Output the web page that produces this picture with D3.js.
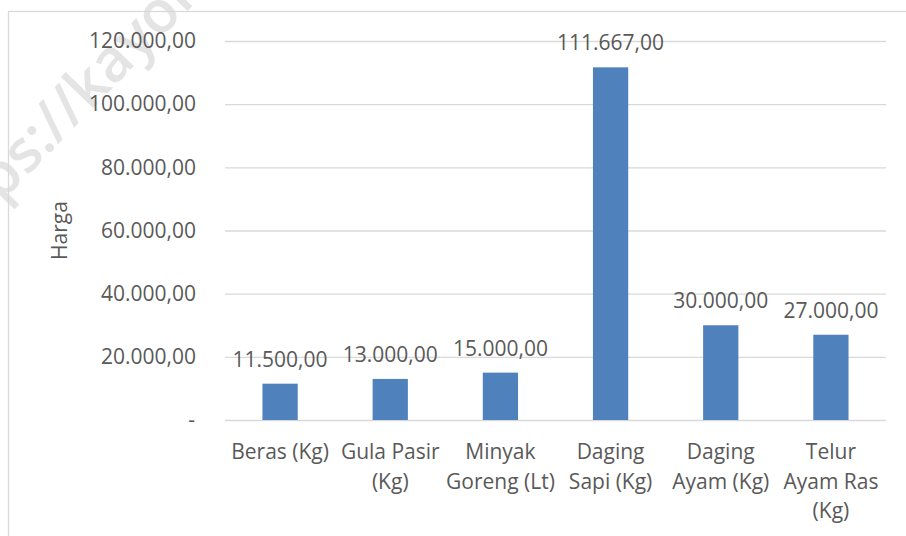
<!DOCTYPE html>
<html>
<head>
<meta charset="utf-8">
<script src="https://cdn.jsdelivr.net/npm/d3@7"></script>
<style>
  body { margin: 0; background: #fff; }
  text { font-family: "Open Sans", sans-serif; fill: #595959; }
</style>
</head>
<body>
<svg id="chart" width="906" height="536"></svg>
<script>
// categories, wrapped the way the labels break under the bars
const categories = ['Beras (Kg)', 'Gula Pasir (Kg)', 'Minyak Goreng (Lt)', 'Daging Sapi (Kg)', 'Daging Ayam (Kg)', 'Telur Ayam Ras (Kg)'];
const categoryLines = [
  ['Beras (Kg)'],
  ['Gula Pasir', '(Kg)'],
  ['Minyak', 'Goreng (Lt)'],
  ['Daging', 'Sapi (Kg)'],
  ['Daging', 'Ayam (Kg)'],
  ['Telur', 'Ayam Ras', '(Kg)'],
];
const harga = [11500, 13000, 15000, 111667, 30000, 27000];
const yTicks = [0, 20000, 40000, 60000, 80000, 100000, 120000];

const svg = d3.select('#chart');
const margin = {top: 41, left: 225, right: 20, bottom: 116};
const width = 906;
const height = 536;

const idLocale = d3.formatLocale({decimal: ',', thousands: '.', grouping: [3], currency: ['', '']});
const fmt = idLocale.format(',.2f');
const tickFmt = d => d === 0 ? '-' : fmt(d);

svg.append('rect').attr('width', width).attr('height', height).attr('fill', '#fff');

// watermark: fit it so the 's' and the 'o' land where they sit in the picture
const wm = svg.append('text')
  .style('font-size', '56px')
  .style('font-weight', 600)
  .style('fill', '#e4e4e4')
  .text('https://kayon');
const charCenter = (i) => {
  const b = wm.node().getExtentOfChar(i);
  return [b.x + b.width / 2, b.y + b.height * 0.62];
};
let sC = charCenter(4), oC = charCenter(11);
const wantS = [27, 157], wantO = [162, 18];
const wantDist = Math.hypot(wantO[0] - wantS[0], wantO[1] - wantS[1]);
wm.style('font-size', (56 * wantDist / Math.hypot(oC[0] - sC[0], oC[1] - sC[1])) + 'px');
oC = charCenter(11);
const ang = Math.atan2(wantO[1] - wantS[1], wantO[0] - wantS[0]);
const rx = oC[0] * Math.cos(ang) - oC[1] * Math.sin(ang);
const ry = oC[0] * Math.sin(ang) + oC[1] * Math.cos(ang);
wm.attr('transform', `translate(${wantO[0] - rx},${wantO[1] - ry}) rotate(${ang * 180 / Math.PI})`);

// chart frame
svg.append('rect')
  .attr('x', 8.5).attr('y', 11.5)
  .attr('width', 1000).attr('height', 1000)
  .attr('fill', 'none')
  .attr('stroke', '#d9d9d9')
  .attr('stroke-width', 1.3);

const x = d3.scaleBand()
  .domain(categories)
  .range([margin.left, width - margin.right])
  .paddingInner(0.68)
  .paddingOuter(0.34);

const y = d3.scaleLinear()
  .domain([0, 120000])
  .range([height - margin.bottom, margin.top]);

// gridlines + y labels
const yAxis = d3.axisLeft(y).tickValues(yTicks).tickFormat(tickFmt)
  .tickSize(-(width - margin.left - margin.right)).tickPadding(29);

const gy = svg.append('g')
  .attr('transform', `translate(${margin.left},0)`)
  .call(yAxis);
gy.select('.domain').remove();
gy.selectAll('.tick line').attr('stroke', '#d9d9d9').attr('stroke-width', 1.3);
gy.selectAll('.tick text')
  .style('font-size', '21px')
  .attr('fill', '#595959')
  .attr('dx', d => d === 0 ? -1 : 0);

// bars
svg.append('g').selectAll('rect')
  .data(harga)
  .join('rect')
  .attr('x', (d, i) => x(categories[i]))
  .attr('y', d => y(d))
  .attr('width', x.bandwidth())
  .attr('height', d => y(0) - y(d))
  .attr('fill', '#4f81bd');

// value labels
svg.append('g').selectAll('text')
  .data(harga)
  .join('text')
  .attr('x', (d, i) => x(categories[i]) + x.bandwidth() / 2)
  .attr('y', d => y(d) - 17)
  .attr('text-anchor', 'middle')
  .style('font-size', '21px')
  .text(d => fmt(d));

// category labels
const gx = svg.append('g').selectAll('text')
  .data(categoryLines)
  .join('text')
  .attr('text-anchor', 'middle')
  .style('font-size', '21px')
  .attr('transform', (d, i) => `translate(${x(categories[i]) + x.bandwidth() / 2},${y(0) + 39})`);
gx.selectAll('tspan')
  .data(d => d)
  .join('tspan')
  .attr('x', 0)
  .attr('y', (d, i) => i * 29.5)
  .text(d => d);

// y axis title
svg.append('text')
  .attr('transform', `translate(67,${(y(0) + y(120000)) / 2}) rotate(-90)`)
  .attr('text-anchor', 'middle')
  .style('font-size', '21px')
  .text('Harga');
</script>
</body>
</html>
